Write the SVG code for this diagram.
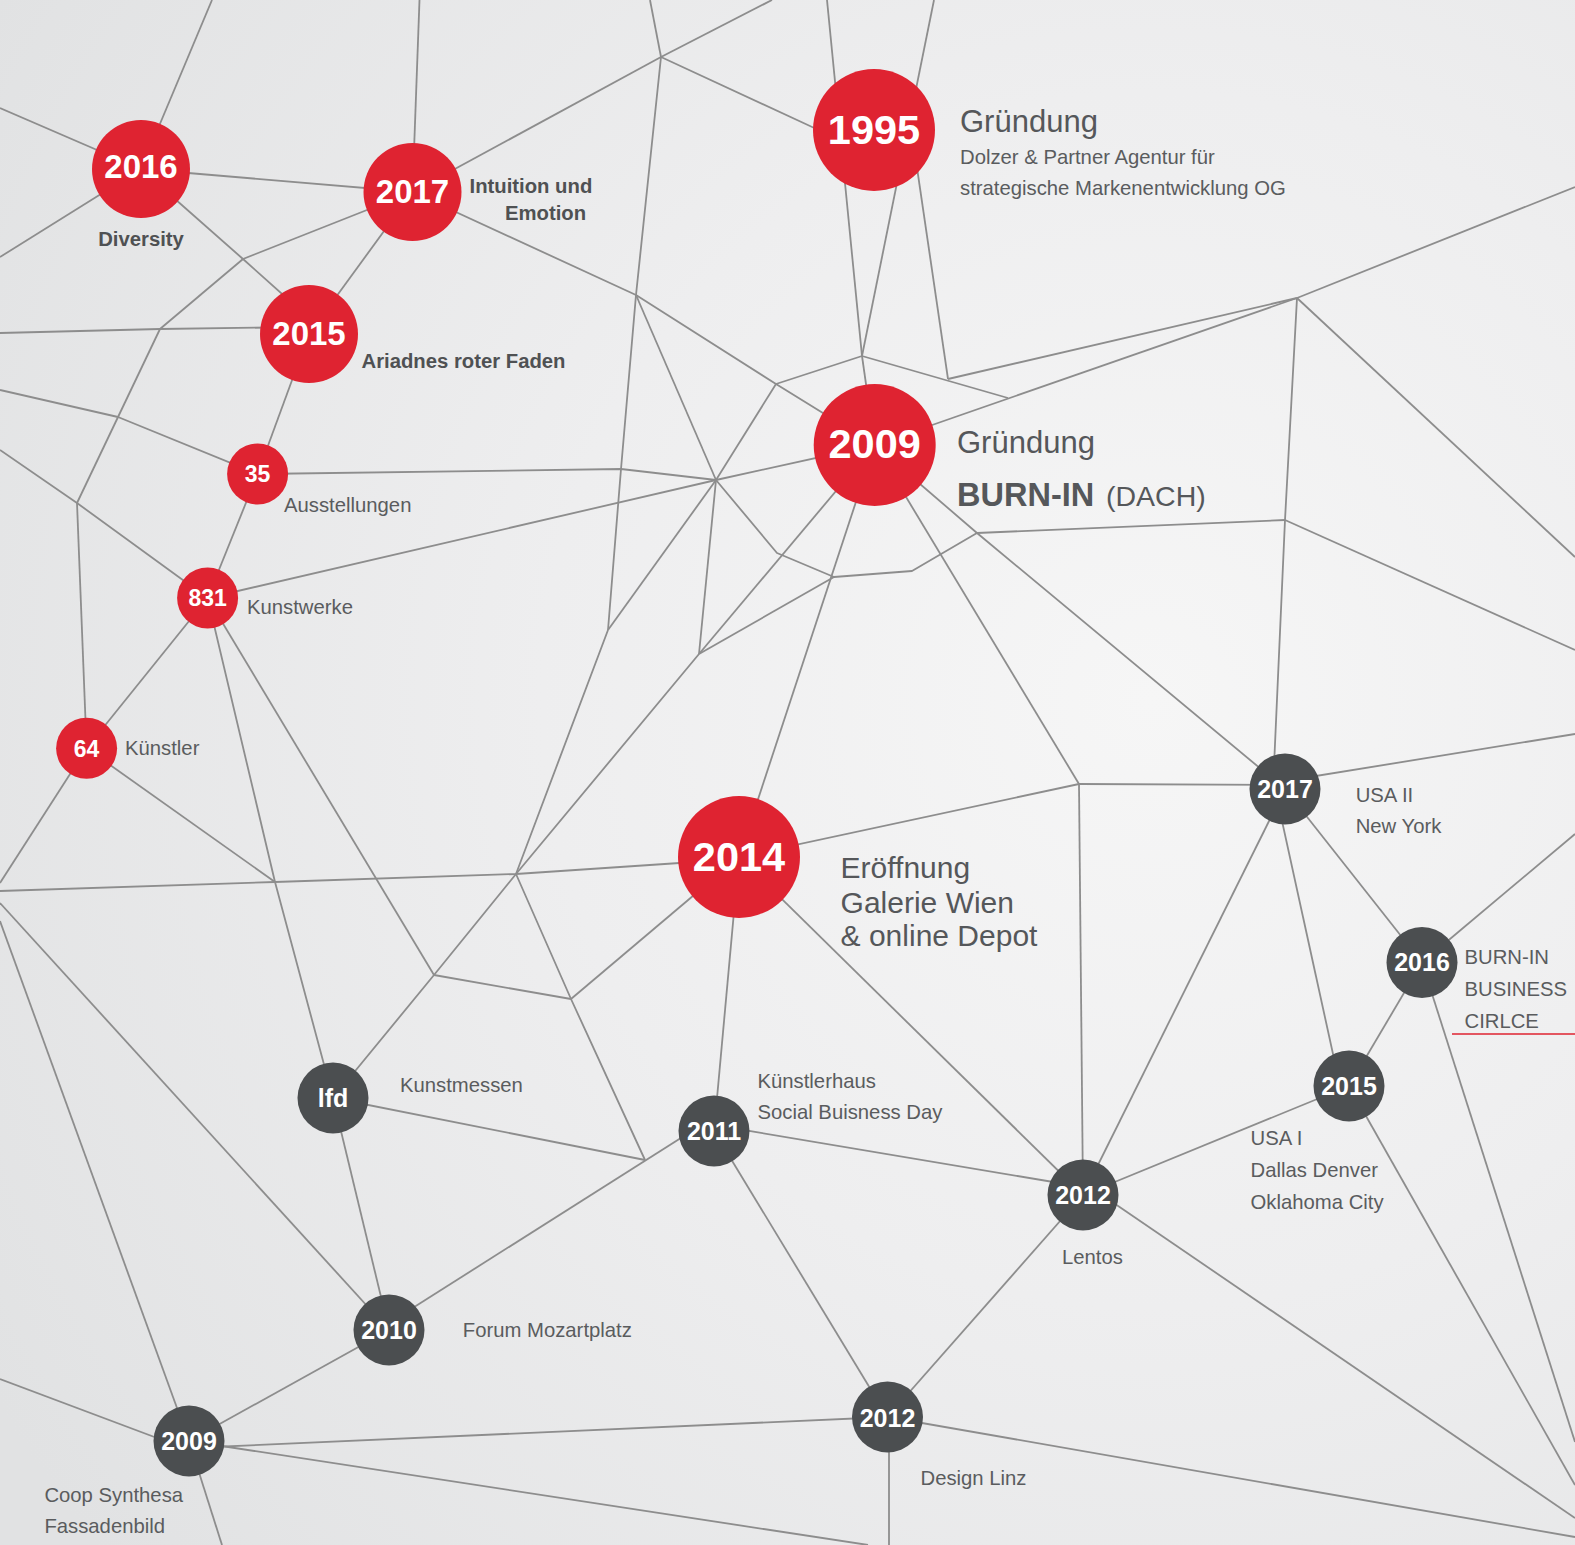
<svg xmlns="http://www.w3.org/2000/svg" width="1575" height="1545" viewBox="0 0 1575 1545">
<defs>
<radialGradient id="bg" cx="1150" cy="700" r="1350" gradientUnits="userSpaceOnUse">
<stop offset="0" stop-color="#f6f6f6"/>
<stop offset="0.45" stop-color="#eeeeef"/>
<stop offset="1" stop-color="#e1e2e3"/>
</radialGradient>
<style>
.ln{stroke:#8d8d8d;stroke-width:1.8;fill:none;stroke-linejoin:round}
.red{fill:#df2331}
.dark{fill:#4b4e50}
.num{font-family:"Liberation Sans",Arial,sans-serif;font-weight:bold;fill:#ffffff;text-anchor:middle}
.bl{font-family:"Liberation Sans",Arial,sans-serif;font-weight:bold;font-size:20.3px;fill:#4f5153}
.sl{font-family:"Liberation Sans",Arial,sans-serif;font-size:20.3px;fill:#5a5c5e}
.tl{font-family:"Liberation Sans",Arial,sans-serif;fill:#55575a}
</style>
</defs>
<rect x="0" y="0" width="1575" height="1545" fill="url(#bg)"/>
<g id="connectors" class="ln">
<line x1="212" y1="0" x2="141" y2="169"/>
<line x1="0" y1="108" x2="141" y2="169"/>
<line x1="141" y1="169" x2="0" y2="257"/>
<line x1="141" y1="169" x2="412.5" y2="192"/>
<polyline points="141,169 243,259 300,310"/>
<line x1="412.5" y1="192" x2="419.5" y2="0"/>
<line x1="412.5" y1="192" x2="661" y2="57"/>
<line x1="661" y1="57" x2="650" y2="0"/>
<line x1="661" y1="57" x2="772" y2="0"/>
<polyline points="661,57 811.6,126.8 850,145"/>
<polyline points="661,57 636,295 621,469 608,630"/>
<polyline points="412.5,192 636,295 776,384 874.7,445"/>
<line x1="636" y1="295" x2="716" y2="480"/>
<polyline points="257.6,474 621,469 716,480"/>
<polyline points="207.6,598 716,480 874.7,445"/>
<line x1="716" y1="480" x2="776" y2="384"/>
<line x1="716" y1="480" x2="608" y2="630"/>
<line x1="716" y1="480" x2="699" y2="654"/>
<polyline points="716,480 777,553 834,577 912,571 977,533"/>
<line x1="874.7" y1="445" x2="699" y2="654"/>
<line x1="834" y1="577" x2="699" y2="654"/>
<line x1="874.7" y1="445" x2="739" y2="857"/>
<polyline points="874.7,445 977,533 1285,789"/>
<line x1="977" y1="533" x2="1285" y2="520"/>
<line x1="874.7" y1="445" x2="1079" y2="784"/>
<line x1="1079" y1="784" x2="739" y2="857"/>
<line x1="1079" y1="784" x2="1285" y2="785"/>
<line x1="1079" y1="784" x2="1083" y2="1195"/>
<line x1="739" y1="857" x2="1083" y2="1195"/>
<line x1="739" y1="857" x2="714" y2="1131"/>
<line x1="739" y1="857" x2="571" y2="999"/>
<polyline points="0,891 275,882 516,874 739,859"/>
<polyline points="608,630 516,874 571,999 645,1160"/>
<polyline points="699,654 516,874 434,975 333,1098"/>
<line x1="207.6" y1="598" x2="434" y2="975"/>
<line x1="434" y1="975" x2="571" y2="999"/>
<polyline points="207.6,598 275,882 333,1098"/>
<line x1="86.6" y1="748.3" x2="275" y2="882"/>
<line x1="86.6" y1="748.3" x2="0" y2="883"/>
<line x1="86.6" y1="748.3" x2="207.6" y2="598"/>
<line x1="86.6" y1="748.3" x2="77" y2="503"/>
<polyline points="0,450 77,503 207.6,598"/>
<line x1="160" y1="329" x2="77" y2="503"/>
<polyline points="0,333 160,329 309,327"/>
<line x1="243" y1="259" x2="160" y2="329"/>
<line x1="243" y1="259" x2="412.5" y2="192"/>
<polyline points="0,390 118,417 257.6,474"/>
<line x1="257.6" y1="474" x2="207.6" y2="598"/>
<line x1="257.6" y1="474" x2="309" y2="334"/>
<line x1="309" y1="334" x2="412.5" y2="192"/>
<line x1="333" y1="1098" x2="645" y2="1160"/>
<line x1="389" y1="1323" x2="714" y2="1117"/>
<line x1="714" y1="1125" x2="1083" y2="1187"/>
<line x1="714" y1="1131" x2="887.5" y2="1417"/>
<line x1="1083" y1="1195" x2="887.5" y2="1417"/>
<line x1="1083" y1="1195" x2="1285" y2="789"/>
<line x1="1083" y1="1195" x2="1349" y2="1086"/>
<line x1="1083" y1="1182" x2="1575" y2="1518"/>
<line x1="887.5" y1="1417" x2="1575" y2="1537"/>
<line x1="889" y1="1417" x2="889" y2="1545"/>
<line x1="887.5" y1="1417" x2="189" y2="1448"/>
<line x1="189" y1="1441" x2="868" y2="1545"/>
<line x1="189" y1="1441" x2="222" y2="1545"/>
<line x1="189" y1="1450" x2="0" y2="1379"/>
<line x1="189" y1="1441" x2="0" y2="921"/>
<line x1="389" y1="1330" x2="0" y2="903"/>
<line x1="389" y1="1330" x2="333" y2="1098"/>
<line x1="389" y1="1330" x2="189" y2="1441"/>
<line x1="1285" y1="781" x2="1575" y2="734"/>
<polyline points="1297,298 1285,520 1273,789"/>
<line x1="1285" y1="520" x2="1575" y2="650"/>
<line x1="1297" y1="298" x2="1575" y2="187"/>
<line x1="1297" y1="298" x2="1575" y2="557"/>
<line x1="948" y1="379" x2="910" y2="120"/>
<line x1="1297" y1="298" x2="874.7" y2="445"/>
<line x1="862" y1="356" x2="1008" y2="398"/>
<line x1="862" y1="356" x2="874.7" y2="445"/>
<line x1="827" y1="0" x2="862" y2="356"/>
<line x1="934" y1="0" x2="862" y2="356"/>
<line x1="862" y1="356" x2="776" y2="384"/>
<line x1="948" y1="379" x2="1297" y2="298"/>
<line x1="1285" y1="789" x2="1422" y2="962.5"/>
<line x1="1275" y1="789" x2="1340" y2="1086"/>
<line x1="1422" y1="962.5" x2="1575" y2="834"/>
<line x1="1422" y1="962.5" x2="1349" y2="1086"/>
<line x1="1422" y1="962.5" x2="1575" y2="1442"/>
<line x1="1349" y1="1086" x2="1575" y2="1485"/>
</g>
<line x1="1452" y1="1034" x2="1575" y2="1034" stroke="#df2331" stroke-width="1.5"/>
<g id="n-2016"><circle class="red" cx="141" cy="169" r="49"/><text class="num" x="141" y="177.5" font-size="33">2016</text><text class="bl" x="141" y="246" text-anchor="middle">Diversity</text></g>
<g id="n-2017"><circle class="red" cx="412.5" cy="192" r="49"/><text class="num" x="412.5" y="203" font-size="33">2017</text><text class="bl" x="469.5" y="193">Intuition und</text><text class="bl" x="505" y="220">Emotion</text></g>
<g id="n-2015"><circle class="red" cx="309" cy="334" r="49"/><text class="num" x="309" y="345" font-size="33">2015</text><text class="bl" x="361.5" y="368">Ariadnes roter Faden</text></g>
<g id="n-35"><circle class="red" cx="257.6" cy="474" r="30.5"/><text class="num" x="257.6" y="482" font-size="23">35</text><text class="sl" x="284" y="512">Ausstellungen</text></g>
<g id="n-831"><circle class="red" cx="207.6" cy="598" r="30.5"/><text class="num" x="207.6" y="606" font-size="23">831</text><text class="sl" x="247" y="614">Kunstwerke</text></g>
<g id="n-64"><circle class="red" cx="86.6" cy="748.3" r="30.5"/><text class="num" x="86.6" y="757" font-size="23">64</text><text class="sl" x="125" y="755">Künstler</text></g>
<g id="n-1995"><circle class="red" cx="874" cy="130" r="61"/><text class="num" x="874" y="143.6" font-size="41.5">1995</text><text class="tl" x="960" y="132" font-size="31">Gründung</text><text class="sl" x="960" y="163.5">Dolzer &amp; Partner Agentur für</text><text class="sl" x="960" y="195">strategische Markenentwicklung OG</text></g>
<g id="n-2009"><circle class="red" cx="874.7" cy="445" r="61"/><text class="num" x="874.7" y="458.3" font-size="41.5">2009</text><text class="tl" x="957" y="452.7" font-size="31">Gründung</text><text class="tl" x="957" y="506" font-size="32.5" font-weight="bold" fill="#4f5153">BURN-IN</text><text class="tl" x="1106" y="506" font-size="28.5">(DACH)</text></g>
<g id="n-2014"><circle class="red" cx="739" cy="857" r="61"/><text class="num" x="739" y="871.4" font-size="41.5">2014</text><text class="tl" x="840.6" y="878" font-size="30">Eröffnung</text><text class="tl" x="840.6" y="912.5" font-size="30">Galerie Wien</text><text class="tl" x="840.6" y="946" font-size="30">&amp; online Depot</text></g>
<g id="n-2017-usa"><circle class="dark" cx="1285" cy="789" r="35.5"/><text class="num" x="1285" y="798" font-size="25">2017</text><text class="sl" x="1355.7" y="802">USA II</text><text class="sl" x="1355.7" y="833">New York</text></g>
<g id="n-2016-circle"><circle class="dark" cx="1422" cy="962.5" r="35.5"/><text class="num" x="1422" y="971" font-size="25">2016</text><text class="sl" x="1464.5" y="964">BURN-IN</text><text class="sl" x="1464.5" y="996.4">BUSINESS</text><text class="sl" x="1464.5" y="1028">CIRLCE</text></g>
<g id="n-2015-usa"><circle class="dark" cx="1349" cy="1086" r="35.5"/><text class="num" x="1349" y="1095.3" font-size="25">2015</text><text class="sl" x="1250.6" y="1145">USA I</text><text class="sl" x="1250.6" y="1177">Dallas Denver</text><text class="sl" x="1250.6" y="1209">Oklahoma City</text></g>
<g id="n-2012-lentos"><circle class="dark" cx="1083" cy="1195" r="35.5"/><text class="num" x="1083" y="1204" font-size="25">2012</text><text class="sl" x="1062" y="1263.5">Lentos</text></g>
<g id="n-2011"><circle class="dark" cx="714" cy="1131" r="35.5"/><text class="num" x="714" y="1139.5" font-size="25">2011</text><text class="sl" x="757.5" y="1088">Künstlerhaus</text><text class="sl" x="757.5" y="1119">Social Buisness Day</text></g>
<g id="n-lfd"><circle class="dark" cx="333" cy="1098" r="35.5"/><text class="num" x="333" y="1106.5" font-size="25">lfd</text><text class="sl" x="400" y="1091.7">Kunstmessen</text></g>
<g id="n-2010"><circle class="dark" cx="389" cy="1330" r="35.5"/><text class="num" x="389" y="1339" font-size="25">2010</text><text class="sl" x="462.8" y="1337">Forum Mozartplatz</text></g>
<g id="n-2009-coop"><circle class="dark" cx="189" cy="1441" r="35.5"/><text class="num" x="189" y="1450" font-size="25">2009</text><text class="sl" x="44.4" y="1501.6">Coop Synthesa</text><text class="sl" x="44.4" y="1533">Fassadenbild</text></g>
<g id="n-2012-linz"><circle class="dark" cx="887.5" cy="1417" r="35.5"/><text class="num" x="887.5" y="1426.5" font-size="25">2012</text><text class="sl" x="920.5" y="1485">Design Linz</text></g>
</svg>
